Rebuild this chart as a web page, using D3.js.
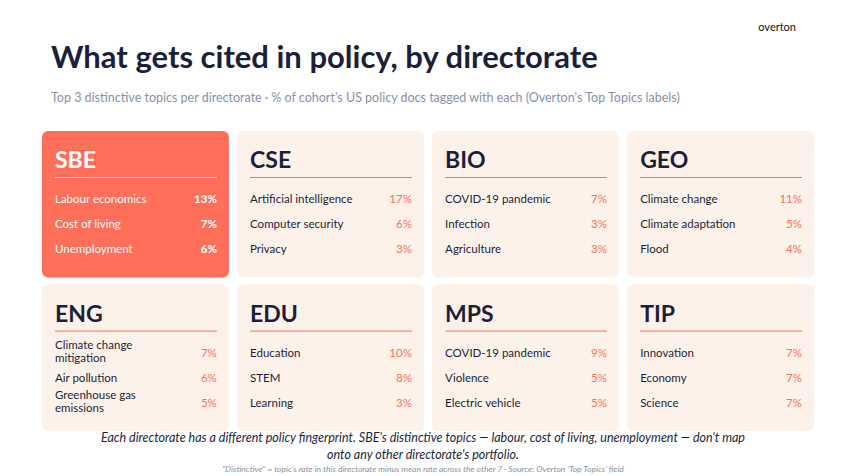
<!DOCTYPE html><html><head><meta charset="utf-8"><script src="https://cdn.jsdelivr.net/npm/d3@7"></script>
<style>body{margin:0;background:#fff}text{font-family:Lato,"Open Sans",sans-serif}</style></head><body><svg id="c" width="847" height="476"></svg><script>
const directorates=["SBE","CSE","BIO","GEO","ENG","EDU","MPS","TIP"];
const topics=[["Labour economics","Cost of living","Unemployment"],["Artificial intelligence","Computer security","Privacy"],["COVID-19 pandemic","Infection","Agriculture"],["Climate change","Climate adaptation","Flood"],[["Climate change","mitigation"],"Air pollution",["Greenhouse gas","emissions"]],["Education","STEM","Learning"],["COVID-19 pandemic","Violence","Electric vehicle"],["Innovation","Economy","Science"]];
const values=[[13,7,6],[17,6,3],[7,3,3],[11,5,4],[7,6,5],[10,8,3],[9,5,5],[7,7,7]];
const svg=d3.select("#c");
svg.append("text").attr("x",796).attr("y",31).attr("text-anchor","end").attr("font-size",11).attr("fill","#111").text("overton");
svg.append("text").attr("x",51).attr("y",68).attr("font-size",31).attr("font-weight",700).attr("fill","#1b1f3b").text("What gets cited in policy, by directorate");
svg.append("text").attr("x",51).attr("y",102).attr("font-size",12.5).attr("fill","#8a90a8").text("Top 3 distinctive topics per directorate · % of cohort's US policy docs tagged with each (Overton's Top Topics labels)");
const xs=d3.scaleBand().domain(d3.range(4)).range([42,814]).paddingInner(0.042).paddingOuter(0);
const ys=d3.scaleBand().domain([0,1]).range([131,431]).paddingInner(0.047);
directorates.forEach((d,i)=>{
 const col=i%4,row=Math.floor(i/4),x=xs(col),y=ys(row),w=xs.bandwidth(),h=ys.bandwidth();
 const hi=i===0;
 const g=svg.append("g").attr("transform",`translate(${x},${y})`);
 g.append("rect").attr("width",w).attr("height",h).attr("rx",6).attr("fill",hi?"#ff6f59":"#fdf2e9");
 g.append("text").attr("x",13).attr("y",37).attr("font-size",23).attr("font-weight",700).attr("fill",hi?"#fff":"#1b1f3b").text(d);
 g.append("line").attr("x1",13).attr("x2",w-12).attr("y1",46.5).attr("y2",46.5).attr("stroke",hi?"#ffd2c8":"#ff6f59").attr("stroke-width",1);
 topics[i].forEach((t,j)=>{
  const ty=72+j*25;
  const lines=Array.isArray(t)?t:[t];
  const tx=g.append("text").attr("font-size",11.5).attr("fill",hi?"#fff":"#1b1f3b");
  lines.forEach((l,k)=>tx.append("tspan").attr("x",13).attr("y",ty+(lines.length>1?(k*13-8):0)).text(l));
  g.append("text").attr("x",w-12).attr("y",ty).attr("text-anchor","end").attr("font-size",11.5).attr("font-weight",hi?700:400).attr("fill",hi?"#fff":"#ff6f59").text(values[i][j]+"%");
 });
});
svg.append("text").attr("x",423).attr("y",442).attr("text-anchor","middle").attr("font-size",12.5).attr("font-style","italic").attr("fill","#1b1f3b").text("Each directorate has a different policy fingerprint. SBE's distinctive topics — labour, cost of living, unemployment — don't map");
svg.append("text").attr("x",423).attr("y",459).attr("text-anchor","middle").attr("font-size",12.5).attr("font-style","italic").attr("fill","#1b1f3b").text("onto any other directorate's portfolio.");
svg.append("text").attr("x",423).attr("y",472).attr("text-anchor","middle").attr("font-size",8.5).attr("font-style","italic").attr("fill","#8a90a8").text("\"Distinctive\" = topic's rate in this directorate minus mean rate across the other 7  ·  Source: Overton 'Top Topics' field");
</script></body></html>
